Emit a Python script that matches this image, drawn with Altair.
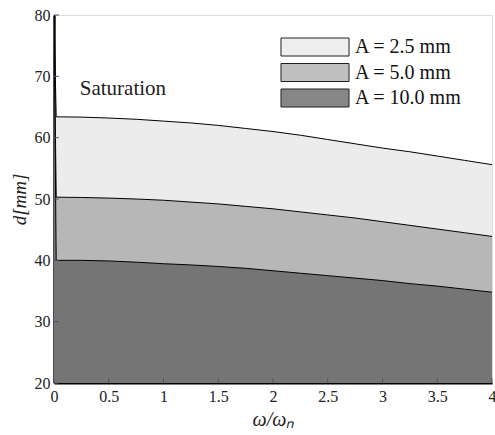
import altair as alt
import pandas as pd

# --- data ---
omega = [0, 0.02, 0.25, 0.5, 0.75, 1.0, 1.25, 1.5, 1.75, 2.0, 2.25, 2.5, 2.75, 3.0, 3.25, 3.5, 3.75, 4.0]
d_25 = [80, 63.4, 63.35, 63.2, 63.0, 62.7, 62.4, 62.0, 61.5, 61.0, 60.4, 59.7, 59.0, 58.3, 57.7, 57.0, 56.3, 55.6]
d_50 = [80, 50.3, 50.25, 50.15, 50.0, 49.8, 49.5, 49.2, 48.8, 48.4, 47.9, 47.4, 46.9, 46.3, 45.7, 45.1, 44.5, 43.9]
d_100 = [80, 40.0, 40.0, 39.9, 39.7, 39.45, 39.25, 39.0, 38.7, 38.3, 37.9, 37.5, 37.1, 36.7, 36.2, 35.8, 35.3, 34.8]

series_names = ["A = 2.5 mm", "A = 5.0 mm", "A = 10.0 mm"]
series_colors = ["#ececec", "#b7b7b7", "#757575"]
x_ticks = [0, 0.5, 1, 1.5, 2, 2.5, 3, 3.5, 4]
y_ticks = [20, 30, 40, 50, 60, 70, 80]
annotation = pd.DataFrame({"x": [0.235], "y": [68.0], "text": ["Saturation"]})

rows = []
for name, vals in zip(series_names, [d_25, d_50, d_100]):
    for xv, yv in zip(omega, vals):
        rows.append({"omega": xv, "d": yv, "series": name})
df = pd.DataFrame(rows)

FONT = "Liberation Serif"

xscale = alt.Scale(domain=[0, 4], nice=False, zero=False)
yscale = alt.Scale(domain=[20, 80], nice=False, zero=False)

xaxis = alt.Axis(values=x_ticks, format="~g", title="ω/ωₙ", tickSize=0, grid=False,
                 domainColor="black", domainWidth=2, labelFont=FONT, labelFontSize=16,
                 labelColor="#222", labelPadding=5, titleFont=FONT, titleFontSize=20,
                 titleFontStyle="italic", titleFontWeight="normal", titleColor="#222",
                 titlePadding=5, labelFlush=False)
yaxis = alt.Axis(values=y_ticks, title="d[mm]", tickSize=0, grid=False,
                 domainColor="#111", domainWidth=2.5, labelFont=FONT, labelFontSize=16,
                 labelColor="#222", labelPadding=4, titleFont=FONT, titleFontSize=19,
                 titleFontStyle="italic", titleFontWeight="normal", titleColor="#222",
                 titlePadding=5)

color = alt.Color("series:N",
                  scale=alt.Scale(domain=series_names, range=series_colors),
                  legend=alt.Legend(title=None, orient="none", legendX=251, legendY=22,
                                    symbolType="M-3.78,-1L3.78,-1L3.78,1L-3.78,1Z",
                                    symbolSize=324, symbolStrokeColor="black",
                                    symbolStrokeWidth=1, symbolOpacity=0.87,
                                    labelFont=FONT, labelFontSize=20, labelColor="#111",
                                    labelOffset=30, rowPadding=3.5, padding=0,
                                    labelLimit=300))

layers = []
for name in series_names:
    sub = df[df["series"] == name]
    area = alt.Chart(sub).mark_area(clip=True, opacity=1, interpolate="linear").encode(
        x=alt.X("omega:Q", scale=xscale, axis=xaxis),
        y=alt.Y("d:Q", scale=yscale, axis=yaxis),
        y2=alt.datum(20),
        color=color,
    )
    line = alt.Chart(sub).mark_line(clip=True, color="black", strokeWidth=1).encode(
        x=alt.X("omega:Q", scale=xscale),
        y=alt.Y("d:Q", scale=yscale),
    )
    layers += [area, line]

xt = pd.DataFrame({"x": x_ticks})
yt = pd.DataFrame({"y": y_ticks})
xtick_rules = alt.Chart(xt).mark_rule(color="#555", strokeWidth=1).encode(
    x=alt.X("x:Q", scale=xscale), y=alt.datum(20), y2=alt.datum(20.8))
ytick_rules = alt.Chart(yt).mark_rule(color="#555", strokeWidth=1).encode(
    y=alt.Y("y:Q", scale=yscale), x=alt.datum(0), x2=alt.datum(0.045))

text = alt.Chart(annotation).mark_text(align="left", baseline="middle", font=FONT,
                                       fontSize=21, color="#222").encode(
    x=alt.X("x:Q", scale=xscale), y=alt.Y("y:Q", scale=yscale), text="text:N")

chart = alt.layer(*layers, xtick_rules, ytick_rules, text).properties(
    width=438, height=368,
    autosize=alt.AutoSizeParams(type="none"),
    padding={"left": 54, "top": 15, "right": 3, "bottom": 52},
).configure_view(stroke=None).configure(background="white")

chart.save("out.html", embed_options={"renderer": "svg", "actions": False})
